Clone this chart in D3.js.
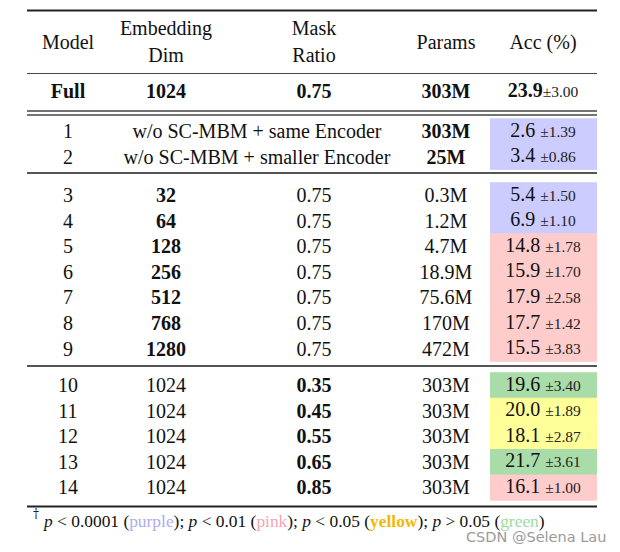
<!DOCTYPE html>
<html>
<head>
<meta charset="utf-8">
<script src="https://cdn.jsdelivr.net/npm/d3@7"></script>
<style>
  body { margin: 0; background: #fff; }
  text { font-family: "Liberation Serif", "Times New Roman", serif; fill: #111; }
</style>
</head>
<body>
<script>
// table data
var models     = ["Full", "1", "2", "3", "4", "5", "6", "7", "8", "9", "10", "11", "12", "13", "14"];
var groups     = [0, 1, 1, 2, 2, 2, 2, 2, 2, 2, 3, 3, 3, 3, 3];
var embDims    = ["1024", null, null, "32", "64", "128", "256", "512", "768", "1280", "1024", "1024", "1024", "1024", "1024"];
var maskRatios = ["0.75", null, null, "0.75", "0.75", "0.75", "0.75", "0.75", "0.75", "0.75", "0.35", "0.45", "0.55", "0.65", "0.85"];
var spanText   = [null, "w/o SC-MBM + same Encoder", "w/o SC-MBM + smaller Encoder"];
var params     = ["303M", "303M", "25M", "0.3M", "1.2M", "4.7M", "18.9M", "75.6M", "170M", "472M", "303M", "303M", "303M", "303M", "303M"];
var accs       = ["23.9", "2.6", "3.4", "5.4", "6.9", "14.8", "15.9", "17.9", "17.7", "15.5", "19.6", "20.0", "18.1", "21.7", "16.1"];
var stds       = ["3.00", "1.39", "0.86", "1.50", "1.10", "1.78", "1.70", "2.58", "1.42", "3.83", "3.40", "1.89", "2.87", "3.61", "1.00"];
var signif     = [null, "purple", "purple", "purple", "purple", "pink", "pink", "pink", "pink", "pink", "green", "yellow", "yellow", "green", "pink"];
// which column is bold in each group
var boldCol    = ["all", "params", "emb", "mask"];

var cellColor = { purple: "#ccccff", pink: "#ffcccc", yellow: "#ffff99", green: "#aadcaa" };
var noteColor = { purple: "#acacf4", pink: "#f4a4b4", yellow: "#f5b800", green: "#9edb9e" };

var width = 620, height = 552;
var svg = d3.select("body").append("svg")
            .attr("width", width)
            .attr("height", height);

// columns
var x = d3.scaleOrdinal()
          .domain(["model", "emb", "mask", "params", "acc", "span"])
          .range([68, 166, 314, 446, 543, 257]);

// rows: slot index + group gap
var pitch = 25.6;
var groupStart = [91, 131, 195, 385];
var slot = [];
var counts = [0, 0, 0, 0];
groups.forEach(function(g) { slot.push(counts[g]); counts[g]++; });
var y = function(i) {
  var s = d3.scaleLinear().domain([0, 1]).range([groupStart[groups[i]], groupStart[groups[i]] + pitch]);
  return s(slot[i]);
};

var left = 27, right = 597;
var rule = function(yy, w, c) {
  svg.append("line")
     .attr("x1", left).attr("x2", right)
     .attr("y1", yy).attr("y2", yy)
     .attr("stroke", c).attr("stroke-width", w);
};

// colored cells
var rows = d3.range(models.length);
svg.selectAll("rect.cell")
   .data(rows.filter(function(i) { return signif[i]; }))
   .enter()
   .append("rect")
   .attr("class", "cell")
   .attr("x", 490)
   .attr("width", 107)
   .attr("y", function(i) { return y(i) - pitch / 2; })
   .attr("height", pitch + 0.5)
   .attr("fill", function(i) { return cellColor[signif[i]]; });

// rules
rule(10.5, 2, "#222");
rule(73.5, 1.2, "#444");
rule(111, 1.4, "#444");
rule(115, 1.4, "#444");
rule(173, 2, "#555");
rule(366, 2, "#555");
rule(506.5, 2, "#222");

// header
var header = [
  { col: "model", lines: ["Model"] },
  { col: "emb", lines: ["Embedding", "Dim"] },
  { col: "mask", lines: ["Mask", "Ratio"] },
  { col: "params", lines: ["Params"] },
  { col: "acc", lines: ["Acc (%)"] }
];
header.forEach(function(h) {
  var ys = h.lines.length == 1 ? [42] : [28, 55];
  h.lines.forEach(function(l, k) {
    svg.append("text")
       .attr("x", x(h.col)).attr("y", ys[k]).attr("dy", "0.35em")
       .attr("text-anchor", "middle").attr("font-size", 20)
       .text(l);
  });
});

// body
var isBold = function(i, col) {
  var b = boldCol[groups[i]];
  return b == "all" || b == col;
};
var cellText = function(i, col, txt) {
  svg.append("text")
     .attr("x", x(col))
     .attr("y", y(i))
     .attr("dy", "0.35em")
     .attr("text-anchor", "middle")
     .attr("font-size", 20)
     .attr("font-weight", isBold(i, col) ? "bold" : "normal")
     .text(txt);
};

rows.forEach(function(i) {
  cellText(i, "model", models[i]);
  if (embDims[i] !== null) cellText(i, "emb", embDims[i]);
  if (maskRatios[i] !== null) cellText(i, "mask", maskRatios[i]);
  if (embDims[i] === null) cellText(i, "span", spanText[i]);
  cellText(i, "params", params[i]);

  var t = svg.append("text")
             .attr("x", x("acc"))
             .attr("y", y(i))
             .attr("dy", "0.35em")
             .attr("text-anchor", "middle");
  t.append("tspan")
   .attr("font-size", 20)
   .attr("font-weight", groups[i] == 0 ? "bold" : "normal")
   .text(accs[i] + (groups[i] == 0 ? "" : " "));
  t.append("tspan")
   .attr("font-size", 15.5)
   .style("fill", "#222")
   .text("\u00b1" + stds[i]);
});

// footnote
var note = svg.append("text")
              .attr("x", 33)
              .attr("y", 527)
              .attr("font-size", 17.4);
note.append("tspan")
    .attr("font-size", 12)
    .attr("dy", -9)
    .style("fill", "#111")
    .style("font-family", "'DejaVu Serif', serif")
    .text("\u2020");
var parts = [["p", " < 0.0001 (", "purple", "); "], ["p", " < 0.01 (", "pink", "); "],
             ["p", " < 0.05 (", "yellow", "); "], ["p", " > 0.05 (", "green", ")"]];
parts.forEach(function(p, k) {
  note.append("tspan").attr("dy", k == 0 ? 9 : 0).attr("dx", k == 0 ? 5 : 0)
      .attr("font-style", "italic").text(p[0]);
  note.append("tspan").text(p[1]);
  note.append("tspan")
      .style("fill", noteColor[p[2]])
      .attr("font-weight", p[2] == "yellow" ? "bold" : "normal")
      .text(p[2]);
  note.append("tspan").text(p[3]);
});

// watermark
svg.append("text")
   .attr("x", 466)
   .attr("y", 542)
   .attr("font-size", 14.5)
   .style("font-family", "'DejaVu Sans', sans-serif")
   .style("fill", "#9a9a9a")
   .text("CSDN @Selena Lau");
</script>
</body>
</html>
